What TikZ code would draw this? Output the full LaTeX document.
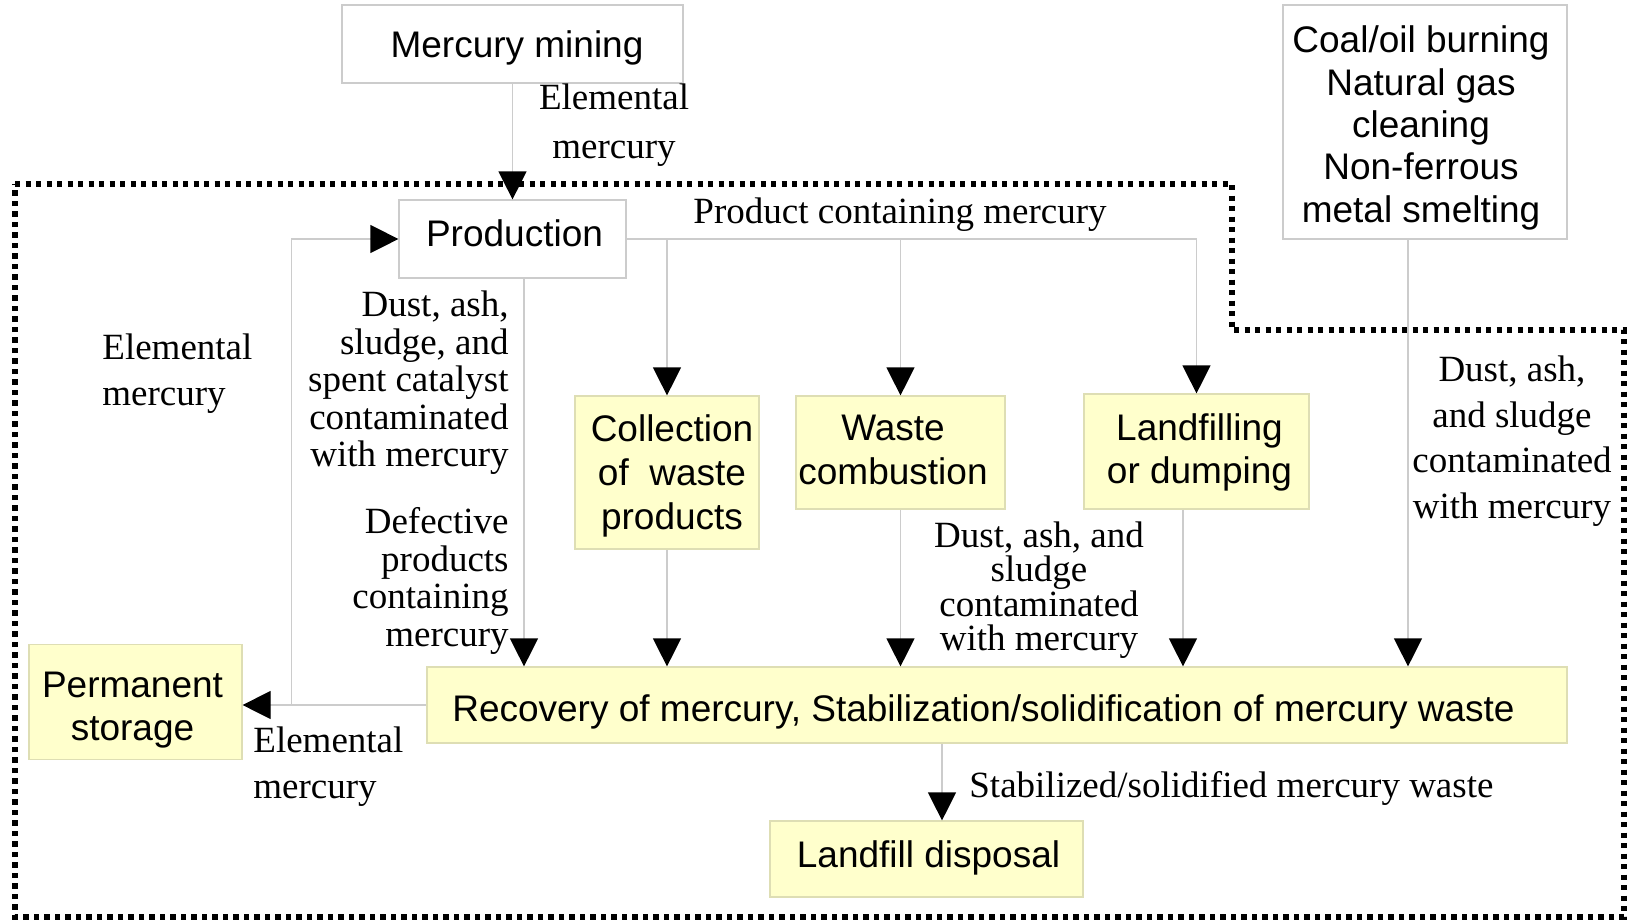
\documentclass[tikz,border=0pt]{standalone}
\usepackage{fontspec}
\setmainfont{Liberation Serif}
\setsansfont{Liberation Sans}
\usetikzlibrary{arrows.meta,calc}
\definecolor{linegray}{HTML}{CCCCCC}
\definecolor{yfill}{HTML}{FFFFCC}
\definecolor{yborder}{HTML}{DEDEB4}
\tikzset{
  box/.style={draw=linegray, fill=white, line width=0.6pt, inner sep=0pt},
  ybox/.style={box, fill=yfill, draw=yborder},
  btext/.style={inner sep=0pt, align=center, font=\sffamily\fontsize{18.5}{#1}\selectfont},
  btext/.default={21.5},
  conn/.style={draw=linegray, line width=0.6pt, -{Triangle[length=14pt,width=14pt,color=black]}},
  lbl/.style={inner sep=0pt},
  boundary/.style={line width=2.6pt, dash pattern=on 2.6pt off 2.65pt}
}
\begin{document}
\begin{tikzpicture}[x=0.5pt,y=-0.5pt]
\useasboundingbox (0,0) rectangle (1633,923);
% boundary
\draw[boundary] (15,184) -- (1232,184) -- (1232,330) -- (1624,330) -- (1624,917) -- (15,917) -- cycle;
% boxes
\node[box, minimum width=170.5pt, minimum height=39pt] (mining) at (512.5,44) {};
\node[btext] (mining-t) at (517,48) {Mercury mining};
\node[box, minimum width=142pt, minimum height=117pt] (coal) at (1425,122) {};
\node[btext=21.2] (coal-t) at (1421,128) {Coal/oil burning\\Natural gas\\cleaning\\Non-ferrous\\metal smelting};
\node[box, minimum width=113.5pt, minimum height=39pt] (prod) at (512.5,239) {};
\node[btext] (prod-t) at (514.5,233) {Production};
\node[ybox, minimum width=92pt, minimum height=76.5pt] (coll) at (667,472.5) {};
\node[btext=22.1] (coll-t) at (672,476) {Collection\\of\ \ waste\\products};
\node[ybox, minimum width=104.5pt, minimum height=56.5pt] (comb) at (900.5,452.5) {};
\node[btext=22.4] (comb-t) at (893,450) {Waste\\combustion};
\node[ybox, minimum width=112.5pt, minimum height=57.5pt] (landf) at (1196.5,451.5) {};
\node[btext=21.9] (landf-t) at (1199.5,452.5) {Landfilling\\or dumping};
\node[ybox, minimum width=106.5pt, minimum height=57.5pt] (perm) at (135.5,702) {};
\node[btext=21.9] (perm-t) at (132.5,710) {Permanent\\storage};
\node[ybox, minimum width=570pt, minimum height=38pt] (rec) at (997,705) {};
\node[btext] (rec-t) at (983.5,712) {Recovery of mercury, Stabilization/solidification of mercury waste};
\node[ybox, minimum width=156.5pt, minimum height=38pt] (disp) at (926.5,859) {};
\node[btext] (disp-t) at (928.5,858) {Landfill disposal};
% connectors
\draw[conn] (mining) -- (prod);
\draw[conn] (prod.east) -| (landf.north);
\draw[conn] (coll.north |- prod.east) -- (coll.north);
\draw[conn] (comb.north |- prod.east) -- (comb.north);
\draw[conn] ([xshift=5.75pt]prod.south) -- ([xshift=5.75pt]prod.south |- rec.north);
\draw[conn] (coll.south) -- (coll.south |- rec.north);
\draw[conn] (comb.south) -- (comb.south |- rec.north);
\draw[conn] ([xshift=-6.75pt]landf.south) -- ([xshift=-6.75pt]landf.south |- rec.north);
\draw[conn] ([xshift=-8.5pt]coal.south) -- ([xshift=-8.5pt]coal.south |- rec.north);
\coordinate (j) at ($(rec.west)+(-67.5pt,0)$);
\draw[conn] (rec.west) -- (rec.west -| perm.east);
\draw[conn] (j) |- (prod.west);
\draw[conn] ([xshift=7.75pt]disp.north |- rec.south) -- ([xshift=7.75pt]disp.north);
% labels
\node[lbl, align=center, font=\fontsize{18.5}{24.5}\selectfont] (l1) at (614,125) {Elemental\\mercury};
\node[lbl, font=\fontsize{18.5}{20}\selectfont] (l2) at (900,215) {Product containing mercury};
\node[lbl, align=left, anchor=west, font=\fontsize{18.5}{23}\selectfont] (l3) at (102,374) {Elemental\\mercury};
\node[lbl, align=right, anchor=east, font=\fontsize{18.5}{18.75}\selectfont] (l4) at (509,383) {Dust, ash,\\sludge, and\\spent catalyst\\contaminated\\with mercury};
\node[lbl, align=right, anchor=east, font=\fontsize{18.5}{18.75}\selectfont] (l5) at (509,581) {Defective\\products\\containing\\mercury};
\node[lbl, align=left, anchor=west, font=\fontsize{18.5}{23}\selectfont] (l6) at (253,767) {Elemental\\mercury};
\node[lbl, align=center, font=\fontsize{18.5}{17.2}\selectfont] (l7) at (1039,590) {Dust, ash, and\\sludge\\contaminated\\with mercury};
\node[lbl, align=center, font=\fontsize{18.5}{22.75}\selectfont] (l8) at (1512,441) {Dust, ash,\\and sludge\\contaminated\\with mercury};
\node[lbl, anchor=west, font=\fontsize{18.5}{20}\selectfont] (l9) at (969,788) {Stabilized/solidified mercury waste};
\end{tikzpicture}
\end{document}
